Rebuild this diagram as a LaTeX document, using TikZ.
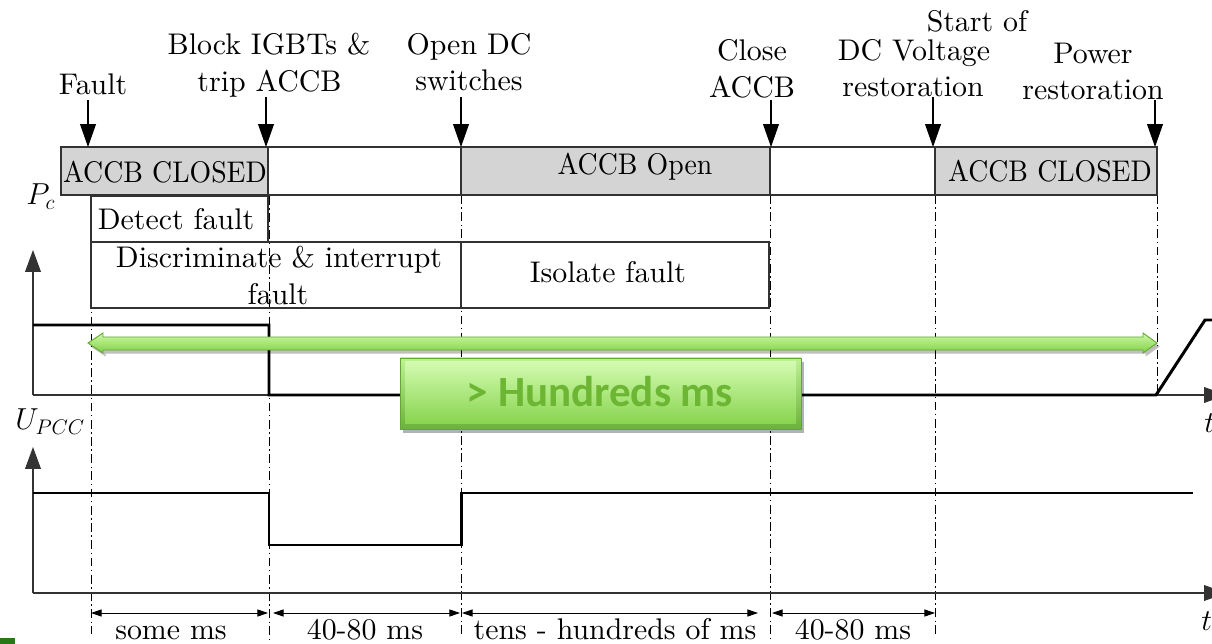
\documentclass[tikz,border=0pt]{standalone}
\usepackage{fontspec}
\setmainfont{lmroman10-regular.otf}[ItalicFont=lmroman10-italic.otf, BoldFont=lmroman10-bold.otf]
\newfontfamily\calfont{Carlito}
\usetikzlibrary{arrows.meta,shadows,fit}
\definecolor{boxgray}{RGB}{212,212,212}
\definecolor{edgegray}{RGB}{50,50,50}
\definecolor{gtop}{RGB}{205,250,168}
\definecolor{gbot}{RGB}{128,208,68}
\definecolor{gedge}{RGB}{98,168,48}
\definecolor{gtext}{RGB}{108,182,52}
\definecolor{gdark}{RGB}{40,120,25}
\begin{document}
\begin{tikzpicture}[x=0.02cm,y=-0.02cm,
 txt/.style={font=\fontsize{17}{20.4}\selectfont, inner sep=0pt, anchor=base},
 statebox/.style={draw=edgegray, line width=0.9pt, inner sep=0pt},
 closedbox/.style={statebox, fill=boxgray},
 evarrow/.style={line width=0.6pt, -{Triangle[length=13pt,width=9pt]}},
 axisline/.style={line width=0.6pt, draw=black!80, -{Triangle[length=12.5pt,width=9pt]}},
 signal/.style={line width=1.7pt, line join=miter},
 dashdot/.style={line width=0.5pt, dash pattern=on 5pt off 2pt on 0.8pt off 2pt},
 dimarrow/.style={line width=0.5pt, {Triangle[length=6pt,width=4pt]}-{Triangle[length=6pt,width=4pt]}},
 greenshape/.style={top color=gtop, bottom color=gbot, draw=gedge, line width=0.5pt,
   drop shadow={shadow xshift=1.5pt, shadow yshift=-2pt, opacity=0.25, fill=black}}
]
\useasboundingbox (0,0) rectangle (1212,644);
\clip (0,0) rectangle (1212,644);

% event lines (dash-dot)
\coordinate (l1a) at (91,196);   \coordinate (l1b) at (91,634);
\coordinate (l2a) at (269,196);  \coordinate (l2b) at (269,640);
\coordinate (l3a) at (461,195);  \coordinate (l3b) at (461,636);
\coordinate (l4a) at (770,195);  \coordinate (l4b) at (770,640);
\coordinate (l5a) at (935,195);  \coordinate (l5b) at (935,634);
\coordinate (l6a) at (1157,195); \coordinate (l6b) at (1157,392);
\foreach \i in {1,...,6} \draw[dashdot] (l\i a) -- (l\i b);

% state row
\node[closedbox, fit={(61,147) (268,195)}] (b1) {};
\node[statebox, fit={(268,147) (461,195)}] (b2) {};
\node[closedbox, fit={(461,147) (770,195)}] (b3) {};
\node[statebox, fit={(770,147) (935,195)}] (b4) {};
\node[closedbox, fit={(935,147) (1157,195)}] (b5) {};
\node[txt] (t1) at (165,183) {\scalebox{0.93}[1]{ACCB CLOSED}};
\node[txt] (t3) at (635,175) {\scalebox{0.93}[1]{ACCB Open}};
\node[txt] (t5) at (1050,182) {\scalebox{0.93}[1]{ACCB CLOSED}};

% action boxes
\node[statebox, fit={(91,196) (268,242)}] (detect) {};
\node[statebox, fit={(91,242) (461,308)}] (discr) {};
\node[statebox, fit={(461,242) (769,308)}] (isol) {};
\node[txt] (tdet) at (176,230) {Detect fault};
\node[txt] (tdis1) at (279,268) {Discriminate \& interrupt};
\node[txt] (tdis2) at (278,305) {fault};
\node[txt] (tiso) at (608,283) {Isolate fault};

% event labels
\node[txt] (ev1) at (93,95) {Fault};
\node[txt] (ev2a) at (269,55) {Block IGBTs \&};
\node[txt] (ev2b) at (269.5,92) {trip ACCB};
\node[txt] (ev3a) at (469,55) {Open DC};
\node[txt] (ev3b) at (469,91) {switches};
\node[txt] (ev4a) at (752,61) {Close};
\node[txt] (ev4b) at (752,98) {ACCB};
\node[txt] (ev5a) at (977,32) {Start of};
\node[txt] (ev5b) at (914,61) {DC Voltage};
\node[txt] (ev5c) at (913,97) {restoration};
\node[txt] (ev6a) at (1093,64) {Power};
\node[txt] (ev6b) at (1093,100) {restoration};

\coordinate (a1s) at (88,100);   \coordinate (a1e) at (88,147);
\coordinate (a2s) at (266,97);   \coordinate (a2e) at (266,147);
\coordinate (a3s) at (461,97);   \coordinate (a3e) at (461,147);
\coordinate (a4s) at (771,100);  \coordinate (a4e) at (771,147);
\coordinate (a5s) at (933,97);   \coordinate (a5e) at (933,147);
\coordinate (a6s) at (1155,100); \coordinate (a6e) at (1155,147);
\foreach \i in {1,...,6} \draw[evarrow] (a\i s) -- (a\i e);

% axes
\coordinate (o1) at (33,395);
\coordinate (y1) at (33,250);
\coordinate (x1) at (1226,395);
\coordinate (o2) at (33,593);
\coordinate (y2) at (33,447);
\coordinate (x2) at (1226,593);
\draw[axisline] (o1) -- (y1);
\draw[axisline] (o1) -- (x1);
\draw[axisline] (o2) -- (y2);
\draw[axisline] (o2) -- (x2);
\node[txt, anchor=base west] (pc) at (26,205) {$P_c$};
\node[txt, anchor=base west] (upcc) at (15,430) {$U_{PCC}$};
\node[txt, anchor=base west] (tx1) at (1204,433) {$t$};
\node[txt, anchor=base west] (tx2) at (1201,630) {$t$};

% signals
\draw[signal] (33,325) -- (269,325) -- (269,395) -- (1156,395) -- (1205,320) -- (1230,320);
\draw[signal] (33,493) -- (269,493) -- (269,545) -- (461,545) -- (461,493) -- (1193,493);

% duration arrows
\coordinate (d1a) at (91,613);  \coordinate (d1b) at (268,613);
\coordinate (d2a) at (273,613); \coordinate (d2b) at (460,613);
\coordinate (d3a) at (462,613); \coordinate (d3b) at (758,613);
\coordinate (d4a) at (772,613); \coordinate (d4b) at (935,613);
\foreach \i in {1,...,4} \draw[dimarrow] (d\i a) -- (d\i b);
\node[txt] (dl1) at (171,639) {some ms};
\node[txt] (dl2) at (365,639) {40-80 ms};
\node[txt] (dl3) at (615,639) {tens - hundreds of ms};
\node[txt] (dl4) at (853,639) {40-80 ms};

% green double arrow
\draw[greenshape] (88,343) -- (103,333) -- (103,337) -- (1143,337) -- (1143,333) -- (1157,343)
  -- (1143,353) -- (1143,350) -- (103,350) -- (103,353) -- cycle;

% green box
\node[fit={(400,358) (801,429)}, inner sep=0pt, draw=gedge, line width=0.5pt,
  top color=gtop!80!gbot, bottom color=gbot!85!black,
  drop shadow={shadow xshift=1.5pt, shadow yshift=-2.5pt, opacity=0.3, fill=black}] (gbox) {};
\fill[top color=gtop!90!white, bottom color=gbot!90!gtop] (405,362) rectangle (796,424);
\node[font=\calfont\bfseries\fontsize{24.5}{28}\selectfont, text=gtext, inner sep=0pt, anchor=base] (hms) at (600,407) {> Hundreds ms};

% corner mark
\fill[gdark] (0,638) rectangle (15,644);
\end{tikzpicture}
\end{document}
